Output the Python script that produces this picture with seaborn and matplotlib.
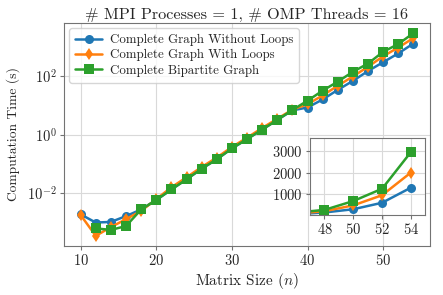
import numpy as np
import pandas as pd
import matplotlib
matplotlib.use("Agg")
import matplotlib.pyplot as plt
import seaborn as sns

sizes = [10, 12, 14, 16, 18, 20, 22, 24, 26, 28, 30, 32, 34, 36, 38, 40, 42, 44, 46, 48, 50, 52, 54]
no_loops = [0.0019, 0.0010, 0.00105, 0.00166, 0.0028, 0.0059, 0.0135, 0.030, 0.069, 0.145, 0.34, 0.71,
            1.5, 3.2, 6.8, 8.5, 16, 34, 69, 150, 300, 600, 1300]
with_loops = [0.0018, 0.00035, 0.0007, 0.0013, 0.0025, 0.0063, 0.016, 0.035, 0.079, 0.166, 0.38, 0.79,
              1.7, 3.5, 7.2, 11, 22, 47, 98, 209, 480, 950, 2000]
bip_sizes = [12, 14, 16, 18, 20, 22, 24, 26, 28, 30, 32, 34, 36, 38, 40, 42, 44, 46, 48, 50, 52, 54]
bipartite = [0.00063, 0.00056, 0.00076, 0.0028, 0.0059, 0.0135, 0.030, 0.069, 0.145, 0.34, 0.71,
             1.5, 3.2, 7.0, 14.5, 32, 65, 141, 270, 680, 1250, 2950]
labels = ["Complete Graph Without Loops", "Complete Graph With Loops", "Complete Bipartite Graph"]
main_yticks = [1e-2, 1e0, 1e2]
main_xticks = [10, 20, 30, 40, 50]
inset_xticks = [48, 50, 52, 54]
inset_yticks = [1000, 2000, 3000]

sns.set_style("whitegrid", {"axes.edgecolor": "0.45", "grid.color": "0.85",
                            "xtick.bottom": True, "ytick.left": True})
plt.rcParams["font.family"] = ["cmr10", "DejaVu Serif"]
plt.rcParams["mathtext.fontset"] = "cm"
plt.rcParams["axes.formatter.use_mathtext"] = True
plt.rcParams["axes.unicode_minus"] = False

colors = ["#1f77b4", "#ff7f0e", "#2ca02c"]
markers = ["o", "d", "s"]
series = [(sizes, no_loops), (sizes, with_loops), (bip_sizes, bipartite)]

fig = plt.figure(figsize=(4.43, 2.95), dpi=100)
ax = fig.add_axes([0.1445, 0.166, 0.8262, 0.756])
for (xs, ys), lab, c, m in zip(series, labels, colors, markers):
    sns.lineplot(x=xs, y=ys, ax=ax, color=c, marker=m, markersize=6.5, linewidth=1.8,
                 markeredgewidth=0, label=lab)
ax.set_yscale("log")
ax.set_yticks(main_yticks)
ax.yaxis.set_minor_locator(matplotlib.ticker.NullLocator())
ax.set_xticks(main_xticks)
ax.set_xlabel("Matrix Size ($n$)", fontsize=11, labelpad=2)
ax.set_ylabel("Computation Time (s)", fontsize=9.7, labelpad=5)
ax.set_title("# MPI Processes = 1, # OMP Threads = 16", fontsize=11.7, pad=3)
ax.tick_params(labelsize=10.5, length=3, width=0.8, color="0.45", pad=2)
ax.legend(loc="upper left", fontsize=9.3, frameon=True, borderpad=0.45, handlelength=2.1,
          labelspacing=0.25, handletextpad=0.6, borderaxespad=0.4)

ins = fig.add_axes([0.70, 0.271, 0.26, 0.261])
for (xs, ys), c, m in zip(series, colors, markers):
    sns.lineplot(x=xs, y=ys, ax=ins, color=c, marker=m, markersize=6.5, linewidth=1.8,
                 markeredgewidth=0, legend=False)
ins.set_xlim(47, 55)
ins.set_ylim(30, 3600)
ins.set_xticks(inset_xticks)
ins.set_yticks(inset_yticks)
ins.tick_params(labelsize=10.5, length=3, width=0.8, color="0.45", pad=2)
ins.set_xlabel("")
ins.set_ylabel("")

fig.savefig("out.png", dpi=100)
